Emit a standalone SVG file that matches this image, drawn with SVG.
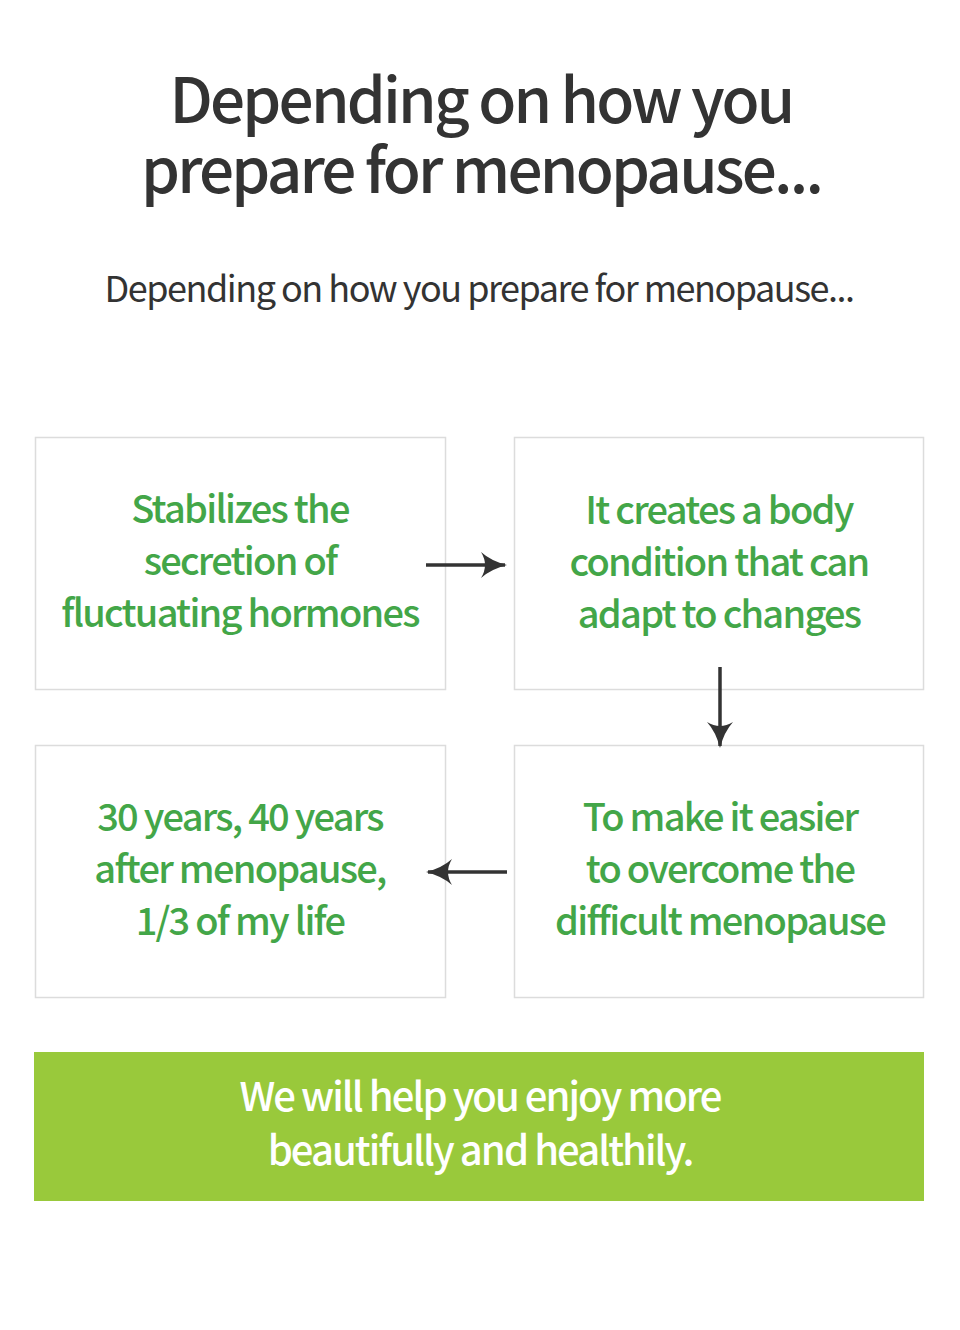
<svg xmlns="http://www.w3.org/2000/svg" width="960" height="1330" viewBox="0 0 960 1330">
<style>
text{font-family:"Noto Sans CJK KR","Noto Sans",sans-serif;text-anchor:middle}
.title{font-size:62px;font-weight:500;fill:#333;letter-spacing:-2.8px}
.sub{font-size:36px;font-weight:400;fill:#333;letter-spacing:-1.5px}
.box{fill:#fff;stroke:#dcdcdc;stroke-width:1.5}
.lbl{font-size:38px;font-weight:500;fill:#43a648;letter-spacing:-1.75px}
.ban{font-size:40px;font-weight:500;fill:#fff;letter-spacing:-1.95px}
.conn{stroke:#333;stroke-width:3.5;fill:none}
</style>
<defs>
<marker id="ah" viewBox="0 0 26 26" refX="24" refY="13" markerWidth="26" markerHeight="26" markerUnits="userSpaceOnUse" orient="auto">
<path d="M0,0 Q10,9 26,13 Q10,17 0,26 Q8,13 0,0 Z" fill="#333"/>
</marker>
</defs>
<rect width="960" height="1330" fill="#fff"/>
<g id="title">
<text class="title" x="481" y="123">Depending on how you</text>
<text class="title" x="481" y="193">prepare for menopause...</text>
<text class="sub" x="479" y="302">Depending on how you prepare for menopause...</text>
</g>
<g id="node1">
<rect class="box" x="35.5" y="437.5" width="410" height="252"/>
<text class="lbl" x="240" y="523">Stabilizes the</text>
<text class="lbl" x="240" y="575">secretion of</text>
<text class="lbl" x="240" y="627">fluctuating hormones</text>
</g>
<g id="node2">
<rect class="box" x="514.5" y="437.5" width="409" height="252"/>
<text class="lbl" x="719" y="524">It creates a body</text>
<text class="lbl" x="719" y="576">condition that can</text>
<text class="lbl" x="719" y="628">adapt to changes</text>
</g>
<g id="node3">
<rect class="box" x="514.5" y="745.5" width="409" height="252"/>
<text class="lbl" x="720" y="831">To make it easier</text>
<text class="lbl" x="720" y="883">to overcome the</text>
<text class="lbl" x="720" y="935">difficult menopause</text>
</g>
<g id="node4">
<rect class="box" x="35.5" y="745.5" width="410" height="252"/>
<text class="lbl" x="240" y="831">30 years, 40 years</text>
<text class="lbl" x="240" y="883">after menopause,</text>
<text class="lbl" x="240" y="935">1/3 of my life</text>
</g>
<g id="banner">
<rect x="34" y="1052" width="890" height="149" fill="#99c93b"/>
<text class="ban" x="480" y="1111">We will help you enjoy more</text>
<text class="ban" x="480" y="1165">beautifully and healthily.</text>
</g>
<g id="connectors">
<line class="conn" x1="426" y1="565" x2="505" y2="565" marker-end="url(#ah)"/>
<line class="conn" x1="720" y1="667" x2="720" y2="746" marker-end="url(#ah)"/>
<line class="conn" x1="507" y1="872" x2="428" y2="872" marker-end="url(#ah)"/>
</g>
</svg>
